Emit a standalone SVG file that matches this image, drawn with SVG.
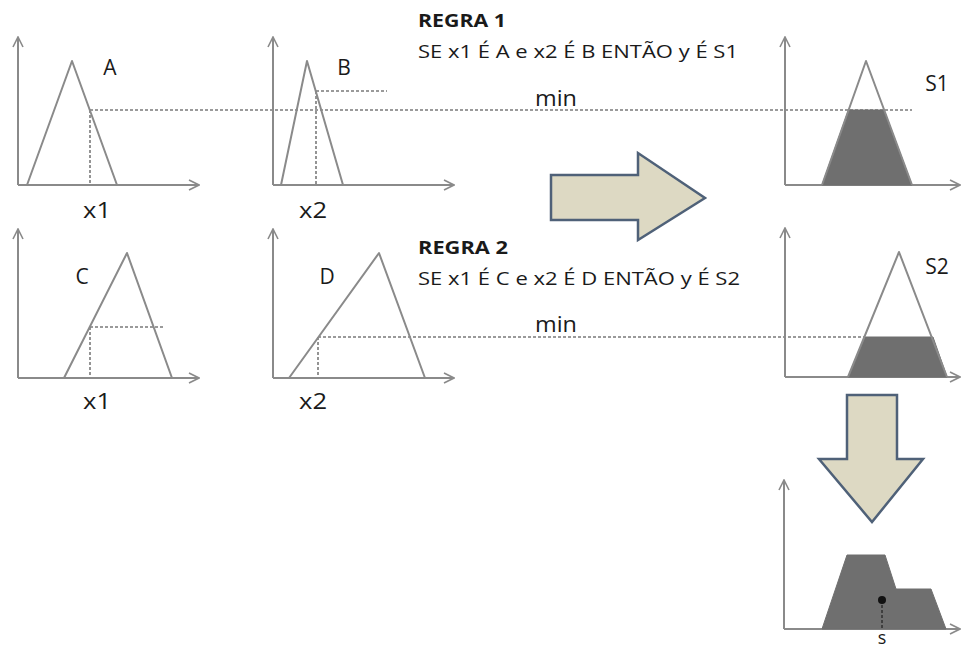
<svg xmlns="http://www.w3.org/2000/svg" width="962" height="650" viewBox="0 0 962 650">
<defs>
<marker id="ah" viewBox="0 0 12 12" refX="11" refY="6" markerWidth="12" markerHeight="12" markerUnits="userSpaceOnUse" orient="auto">
<path d="M1,1 L11,6 L1,11" fill="none" stroke="#8a8a8a" stroke-width="1.6"/>
</marker>
<style>
.ax{stroke:#8a8a8a;stroke-width:2;fill:none;marker-end:url(#ah)}
.tri{stroke:#8a8a8a;stroke-width:2;fill:none;stroke-linejoin:round}
.dash{stroke:#7a7a7a;stroke-width:1.6;stroke-dasharray:3 2;fill:none}
.fill{fill:#6f6f6f;stroke:#6f6f6f;stroke-width:1}
.big{fill:#ddd9c3;stroke:#4f6178;stroke-width:2.5;stroke-linejoin:miter}
.lbl{font-family:"Open Sans","Liberation Sans",sans-serif;font-size:21px;fill:#1a1a1a;text-anchor:middle}
.rule{font-family:"Open Sans","Liberation Sans",sans-serif;font-size:18px;fill:#1a1a1a}
.rb{font-family:"Open Sans","Liberation Sans",sans-serif;font-size:17px;font-weight:bold;fill:#1a1a1a}
</style>
</defs>

<g id="connectors">
<line class="dash" x1="90" y1="110" x2="912" y2="110"/>
<line class="dash" x1="90" y1="110" x2="90" y2="185"/>
<line class="dash" x1="316" y1="91" x2="387" y2="91"/>
<line class="dash" x1="316" y1="91" x2="316" y2="185"/>
<line class="dash" x1="90" y1="327" x2="164" y2="327"/>
<line class="dash" x1="90" y1="327" x2="90" y2="378"/>
<line class="dash" x1="318" y1="337" x2="865" y2="337"/>
<line class="dash" x1="318" y1="337" x2="318" y2="378"/>
</g>

<g id="chartA">
<path class="ax" d="M18,185 L18,37"/>
<path class="ax" d="M18,185 L199,185"/>
<path class="tri" d="M27,185 L72,61 L117,185"/>
<text class="lbl" x="110" y="75">A</text>
<text class="lbl" x="97" y="218" textLength="28" lengthAdjust="spacingAndGlyphs">x1</text>
</g>

<g id="chartB">
<path class="ax" d="M273,185 L273,37"/>
<path class="ax" d="M273,185 L454,185"/>
<path class="tri" d="M281,185 L307,61 L343,185"/>
<text class="lbl" x="344" y="75">B</text>
<text class="lbl" x="313" y="218" textLength="28" lengthAdjust="spacingAndGlyphs">x2</text>
</g>

<g id="rule1">
<text class="rb" x="418" y="27" textLength="88" lengthAdjust="spacingAndGlyphs">REGRA 1</text>
<text class="rule" x="418" y="58" textLength="320" lengthAdjust="spacingAndGlyphs">SE x1 É A e x2 É B ENTÃO y É S1</text>
<text class="lbl" x="556" y="106" style="font-size:22px" textLength="42" lengthAdjust="spacingAndGlyphs">min</text>
</g>

<g id="chartS1">
<path class="ax" d="M785,185 L785,37"/>
<path class="ax" d="M785,185 L960,185"/>
<path class="fill" d="M822,185 L848.5,110 L884,110 L912,185 Z"/>
<path class="tri" d="M822,185 L866,61 L912,185"/>
<text class="lbl" x="937" y="91">S1</text>
</g>

<g id="arrowRight">
<path class="big" d="M551,175 L638,175 L638,153 L705,198 L638,240 L638,220 L551,220 Z"/>
</g>

<g id="chartC">
<path class="ax" d="M18,378 L18,229"/>
<path class="ax" d="M18,378 L199,378"/>
<path class="tri" d="M64,378 L127,253 L172,378"/>
<text class="lbl" x="82" y="284">C</text>
<text class="lbl" x="97" y="409" textLength="28" lengthAdjust="spacingAndGlyphs">x1</text>
</g>

<g id="chartD">
<path class="ax" d="M273,378 L273,229"/>
<path class="ax" d="M273,378 L454,378"/>
<path class="tri" d="M289,378 L379,253 L425,378"/>
<text class="lbl" x="327" y="284">D</text>
<text class="lbl" x="313" y="409" textLength="28" lengthAdjust="spacingAndGlyphs">x2</text>
</g>

<g id="rule2">
<text class="rb" x="418" y="254" textLength="90" lengthAdjust="spacingAndGlyphs">REGRA 2</text>
<text class="rule" x="418" y="285" textLength="322" lengthAdjust="spacingAndGlyphs">SE x1 É C e x2 É D ENTÃO y É S2</text>
<text class="lbl" x="556" y="332" style="font-size:22px" textLength="42" lengthAdjust="spacingAndGlyphs">min</text>
</g>

<g id="chartS2">
<path class="ax" d="M785,377 L785,228"/>
<path class="ax" d="M785,377 L960,377"/>
<path class="fill" d="M848,377 L865,337 L933,337 L947,377 Z"/>
<path class="tri" d="M848,377 L899,252 L947,377"/>
<text class="lbl" x="937" y="274">S2</text>
</g>

<g id="arrowDown">
<path class="big" d="M847,395 L897,395 L897,459 L923,459 L872,522 L819,459 L847,459 Z"/>
</g>

<g id="chartResult">
<path class="ax" d="M784,629 L784,480"/>
<path class="ax" d="M784,629 L960,629"/>
<path class="fill" d="M822,629 L847,555 L885,555 L896,589 L931,589 L946,629 Z"/>
<line class="dash" x1="882" y1="600" x2="882" y2="629" style="stroke:#333"/>
<circle cx="882" cy="600" r="4" fill="#111"/>
<text class="lbl" x="882" y="644" style="font-size:18px">s</text>
</g>
</svg>
